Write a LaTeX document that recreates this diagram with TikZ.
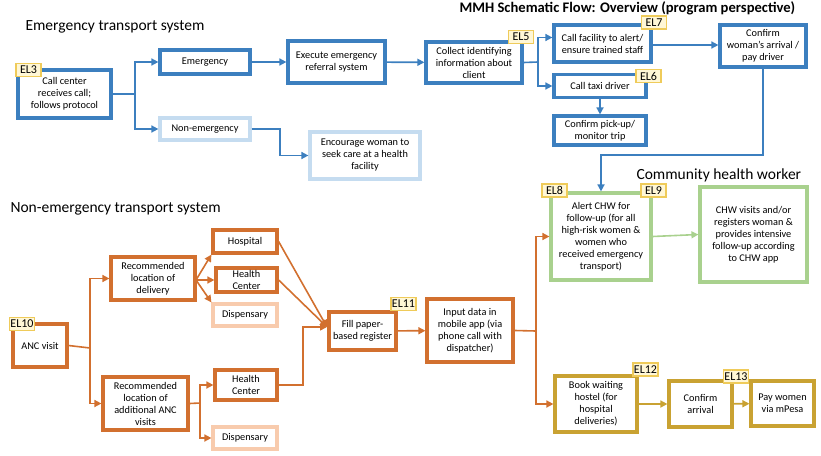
\documentclass[tikz,border=0pt]{standalone}
\usepackage{fontspec}
\setmainfont{Carlito}
\usetikzlibrary{arrows.meta}
\definecolor{blu}{HTML}{3C7FBF}
\definecolor{lblu}{HTML}{C5DCF0}
\definecolor{grn}{HTML}{A9D18E}
\definecolor{org}{HTML}{D2702F}
\definecolor{lorg}{HTML}{F8CBAD}
\definecolor{gld}{HTML}{C9A232}
\definecolor{tagf}{HTML}{FFF7D6}
\definecolor{tagd}{HTML}{EFCB5A}
\tikzset{
 bx/.style={draw=#1,line width=3.2pt,fill=white,align=center,font=\fontsize{10.3}{12}\selectfont,inner sep=1pt},
 ar/.style={draw=#1,line width=1.6pt,-{Triangle[length=7pt,width=7pt]}},
 ln/.style={draw=#1,line width=1.6pt},
 tg/.style={draw=tagd,fill=tagf,line width=1.2pt,font=\fontsize{12}{13}\selectfont,inner sep=1pt,minimum width=25pt,minimum height=13pt},
 ttl/.style={font=\fontsize{15.5}{16}\selectfont,anchor=west}
}
\newcommand{\bb}[6]{\node[bx=#6,minimum width=#3pt,minimum height=#4pt] (#1) at (#2) {#5};}
\begin{document}
\begin{tikzpicture}[x=1pt,y=-1pt]
\useasboundingbox (0,0) rectangle (821,455);
\node[ttl] (t1) at (22,27) {Emergency transport system};
\node[ttl,font=\fontsize{14.6}{15}\selectfont\bfseries] (t2) at (456,8.5) {MMH Schematic Flow: Overview (program perspective)};
\node[ttl] (t3) at (633,175) {Community health worker};
\node[ttl] (t4) at (7,209) {Non-emergency transport system};
% emergency
\bb{cc}{64.5,94}{93}{48}{Call center\\receives call;\\follows protocol}{blu}
\bb{em}{205,62}{90}{24}{Emergency}{blu}
\bb{ex}{336.5,62}{97}{42}{Execute emergency\\referral system}{blu}
\bb{ne}{205,129}{90}{22}{Non-emergency}{lblu}
\bb{en}{365,155.5}{110}{47}{Encourage woman to\\seek care at a health\\facility}{lblu}
\bb{co}{474,62.5}{96}{41}{Collect identifying\\information about\\client}{blu}
\bb{cf}{602.5,43.5}{97}{37}{Call facility to alert/\\ensure trained staff}{blu}
\bb{ct}{600,86}{92}{23}{Call taxi driver}{blu}
\bb{cp}{600,130.5}{92}{29}{Confirm pick-up/\\monitor trip}{blu}
\bb{cw}{763,46}{86}{42}{Confirm\\woman's arrival /\\pay driver}{blu}
% CHW
\bb{al}{601,236.5}{100}{87}{Alert CHW for\\follow-up (for all\\high-risk women \&\\women who\\received emergency\\transport)}{grn}
\bb{cv}{753.5,234.5}{107}{95}{CHW visits and/or\\registers woman \&\\provides intensive\\follow-up according\\to CHW app}{grn}
% non-emergency
\bb{anc}{40,345.5}{54}{43}{ANC visit}{org}
\bb{rd}{153,278.5}{84}{43}{Recommended\\location of\\delivery}{org}
\bb{hs}{245,241.5}{64}{23}{Hospital}{org}
\bb{hc}{246.5,280}{61}{24}{Health\\Center}{org}
\bb{d1}{245,315}{64}{22}{Dispensary}{lorg}
\bb{ra}{145.5,403.5}{85}{53}{Recommended\\location of\\additional ANC\\visits}{org}
\bb{hc2}{246,385}{62}{30}{Health\\Center}{org}
\bb{d2}{245,438}{64}{22}{Dispensary}{lorg}
\bb{fp}{362.5,331}{67}{38}{Fill paper-\\based register}{org}
\bb{in}{470,330.5}{86}{63}{Input data in\\mobile app (via\\phone call with\\dispatcher)}{org}
\bb{bk}{596,404}{82}{56}{Book waiting\\hostel (for\\hospital\\deliveries)}{gld}
\bb{ca}{700.5,404}{63}{46}{Confirm\\arrival}{gld}
\bb{pw}{782.5,403.5}{63}{45}{Pay women\\via mPesa}{gld}
% tags
\node[tg] (el3) at (28.5,70) {EL3};
\node[tg] (el5) at (521,37) {EL5};
\node[tg] (el7) at (654,22.5) {EL7};
\node[tg] (el6) at (648.5,76) {EL6};
\node[tg] (el8) at (554.5,190.5) {EL8};
\node[tg] (el9) at (653.5,190.5) {EL9};
\node[tg] (el10) at (22,324) {EL10};
\node[tg] (el11) at (403.5,304) {EL11};
\node[tg] (el12) at (645.5,369.5) {EL12};
\node[tg] (el13) at (736,376.5) {EL13};
% connectors
\coordinate (j1) at (135,94);
\draw[ln=blu] (cc.east) -- (j1);
\draw[ar=blu] (j1) |- (em.west);
\draw[ar=blu] (j1) |- (ne.west);
\draw[ar=blu] (em) -- (ex);
\draw[ar=blu] (ex) -- (co);
\draw[ar=blu] (ne.east) -- (280,129) |- (en.west);
\coordinate (j2) at (538,62);
\draw[ln=blu] (co.east) -- (j2);
\draw[ar=blu] (j2) |- ([yshift=6pt]cf.west);
\draw[ar=blu] (j2) |- (ct.west);
\draw[ar=blu] (cf.east|-45,45) -- (cw.west|-45,45);
\draw[ar=blu] (ct) -- (cp);
\draw[ar=blu] (cw.south) -- (763,155) -| (al.north);
\draw[ar=grn] (al.east) -- (cv.west);
\coordinate (j3) at (90,348);
\draw[ln=org] (anc.east) -- (j3);
\draw[ar=org] (j3) |- (rd.west);
\draw[ar=org] (j3) |- (ra.west);
\coordinate (j4) at (196,280);
\draw[ar=org] (j4) -- (hs.south west);
\draw[ar=org] (j4) -- (hc.west);
\draw[ar=org] (j4) -- (d1.north west);
\coordinate (j5) at (200,403);
\draw[ln=org] (ra.east) -- (j5);
\draw[ar=org] (j5) |- (hc2.west);
\draw[ar=org] (j5) |- (d2.west);
\coordinate (fpin) at (327,327);
\draw[ar=org] (hs.east) -- (fpin);
\draw[ar=org] (hc.east) -- (fpin);
\draw[ar=org] (hc2.east) -- (303,385) |- (fpin);
\draw[ar=org] (fp) -- (in);
\coordinate (j6) at (536,331);
\draw[ln=org] (in.east) -- (j6);
\draw[ar=org] (j6) |- (al.west);
\draw[ar=org] (j6) |- (bk.west);
\draw[ar=gld] (bk) -- (ca);
\draw[ar=gld] (ca) -- (pw);
\end{tikzpicture}
\end{document}
